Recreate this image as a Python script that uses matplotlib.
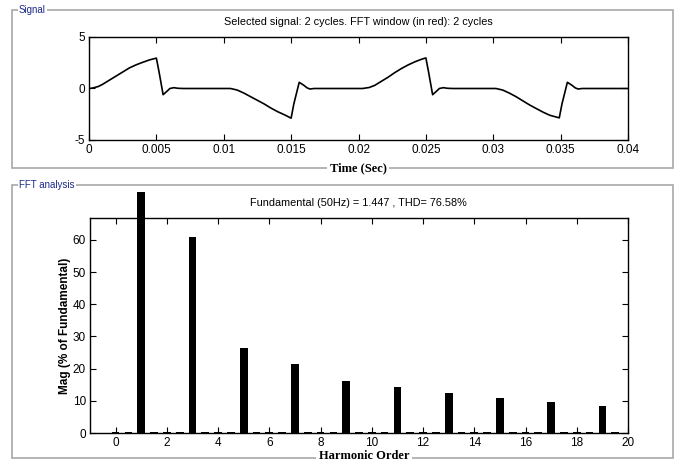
import matplotlib
matplotlib.use("Agg")
import matplotlib.pyplot as plt
from matplotlib.patches import Rectangle
from matplotlib.transforms import Bbox, TransformedBbox

# === Signal (two cycles) ===
time_s = [0, 0.0003, 0.0007, 0.001, 0.0015, 0.002, 0.0025, 0.003, 0.0035, 0.004,
          0.0045, 0.005, 0.0052, 0.0055, 0.0058, 0.006, 0.0063, 0.0066, 0.007,
          0.0105, 0.011, 0.0115, 0.012, 0.0125, 0.013, 0.0135, 0.014, 0.0145, 0.015,
          0.0152, 0.0156, 0.0159, 0.0162, 0.0164, 0.0167,
          0.0203, 0.0208, 0.0212, 0.0217, 0.0222, 0.0227, 0.0232, 0.0237, 0.0242, 0.0247,
          0.025, 0.0252, 0.0255, 0.0258, 0.026, 0.0263, 0.0266, 0.027,
          0.0302, 0.0307, 0.0312, 0.0317, 0.0322, 0.0327, 0.0332, 0.0337, 0.0342, 0.0349,
          0.0351, 0.0355, 0.0358, 0.0361, 0.0363, 0.0366, 0.04]
signal = [0, 0.05, 0.2, 0.4, 0.8, 1.2, 1.6, 2.0, 2.3, 2.55,
          2.78, 2.95, 1.6, -0.6, -0.25, 0.0, 0.08, 0.02, 0,
          0, -0.15, -0.45, -0.8, -1.15, -1.5, -1.9, -2.25, -2.55, -2.88,
          -1.5, 0.6, 0.35, 0.05, -0.05, 0,
          0, 0.1, 0.3, 0.7, 1.1, 1.55, 1.95, 2.3, 2.6, 2.85,
          2.97, 1.6, -0.6, -0.25, 0.0, 0.08, 0.02, 0,
          0, -0.15, -0.45, -0.8, -1.2, -1.6, -1.95, -2.3, -2.6, -2.85,
          -1.5, 0.6, 0.35, 0.05, -0.05, 0, 0]

# === FFT magnitudes (% of fundamental) ===
harmonic_order = [0, 0.5, 1, 1.5, 2, 2.5, 3, 3.5, 4, 4.5, 5, 5.5, 6, 6.5, 7, 7.5,
                  8, 8.5, 9, 9.5, 10, 10.5, 11, 11.5, 12, 12.5, 13, 13.5, 14, 14.5,
                  15, 15.5, 16, 16.5, 17, 17.5, 18, 18.5, 19, 19.5]
magnitude = [0.4, 0.3, 100, 0.3, 0.3, 0.3, 61.0, 0.3, 0.3, 0.3, 26.4, 0.3, 0.3, 0.3,
             21.3, 0.3, 0.3, 0.3, 16.2, 0.3, 0.3, 0.3, 14.3, 0.3, 0.3, 0.3, 12.3, 0.3,
             0.3, 0.3, 11.0, 0.3, 0.3, 0.3, 9.5, 0.3, 0.3, 0.3, 8.3, 0.3]

W, H = 679, 461
plt.rcParams["font.family"] = ["Liberation Sans Narrow", "Liberation Sans", "DejaVu Sans"]
plt.rcParams["font.size"] = 8.5
plt.rcParams["axes.unicode_minus"] = False

fig = plt.figure(figsize=(W / 100, H / 100), dpi=100)


def fx(px):
    return px / W


def fy(py):
    return 1 - py / H


# === Group boxes ===
for (x0, y0, x1, y1) in [(12, 10, 673, 168), (12, 185, 673, 458)]:
    fig.patches.append(Rectangle((fx(x0), fy(y1)), fx(x1 - x0), (y1 - y0) / H,
                                 transform=fig.transFigure, fill=False,
                                 edgecolor="#a8a8a8", linewidth=1.2))
box_lbl = dict(facecolor="white", edgecolor="none", pad=1)
fig.text(fx(19), fy(10), "Signal", color="#1c2a8c", fontsize=7, va="center", bbox=box_lbl)
fig.text(fx(19), fy(185), "FFT analysis", color="#1c2a8c", fontsize=7, va="center", bbox=box_lbl)

# === Signal axes ===
ax1 = fig.add_axes([fx(89), fy(140), fx(628 - 89), (140 - 37) / H])
ax1.plot(time_s, signal, color="black", linewidth=1.2)
ax1.set_xlim(0, 0.04)
ax1.set_ylim(-5, 5)
ax1.set_xticks([0, 0.005, 0.01, 0.015, 0.02, 0.025, 0.03, 0.035, 0.04])
ax1.set_xticklabels(["0", "0.005", "0.01", "0.015", "0.02", "0.025", "0.03", "0.035", "0.04"])
ax1.set_yticks([-5, 0, 5])
fig.text(fx(358), fy(22), "Selected signal: 2 cycles. FFT window (in red): 2 cycles",
         ha="center", va="center", fontsize=7.8)
fig.text(fx(358), fy(168), "Time (Sec)", ha="center", va="center", fontsize=9,
         family="Liberation Serif", weight="bold", bbox=dict(facecolor="white", edgecolor="none", pad=2))

# === FFT axes ===
ax2 = fig.add_axes([fx(90), fy(433), fx(628 - 90), (433 - 218) / H])
bars = ax2.bar(harmonic_order, magnitude, width=0.3, color="black")
# the fundamental bar runs above the axes, cut off just under the panel title
clip = TransformedBbox(Bbox.from_extents(0, 0, 1, fy(192)), fig.transFigure)
for b in bars:
    b.set_clip_path(None)
    b.set_clip_box(clip)
ax2.set_xlim(-1, 20)
ax2.set_ylim(0, 66.8)
ax2.set_xticks(range(0, 21, 2))
ax2.set_yticks(range(0, 61, 10))
ax2.set_ylabel("Mag (% of Fundamental)", family=["Liberation Sans", "DejaVu Sans"],
               weight="bold", fontsize=8.5, labelpad=1)
fig.text(fx(358), fy(203), "Fundamental (50Hz) = 1.447 , THD= 76.58%",
         ha="center", va="center", fontsize=7.8)
fig.text(fx(364), fy(456), "Harmonic Order", ha="center", va="center", fontsize=9,
         family="Liberation Serif", weight="bold", bbox=dict(facecolor="white", edgecolor="none", pad=2))

for ax in (ax1, ax2):
    ax.tick_params(direction="in", top=True, right=True, length=4.5, width=0.8,
                   labelsize=8.5, pad=3)
    for s in ax.spines.values():
        s.set_linewidth(1.0)

fig.savefig("out.png", dpi=100)
